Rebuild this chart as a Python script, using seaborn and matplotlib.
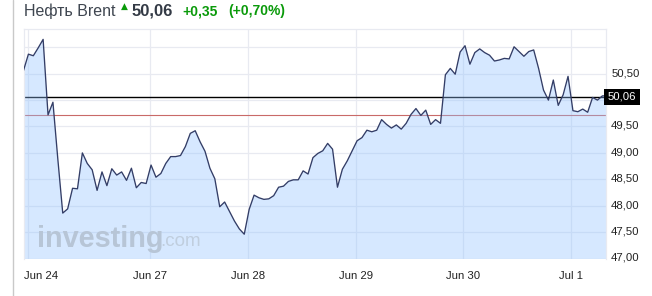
import matplotlib
matplotlib.use("Agg")
import matplotlib.pyplot as plt
from matplotlib.lines import Line2D
from matplotlib.transforms import ScaledTranslation
import numpy as np
import pandas as pd
import seaborn as sns

prices = [50.56, 50.87, 50.84, 50.99, 51.15, 49.72, 49.96, 48.88, 47.86, 47.94,
          48.33, 48.32, 49.00, 48.80, 48.68, 48.29, 48.64, 48.38, 48.70, 48.58,
          48.64, 48.48, 48.71, 48.34, 48.44, 48.42, 48.77, 48.54, 48.61, 48.80,
          48.93, 48.93, 48.95, 49.12, 49.37, 49.42, 49.21, 49.03, 48.71, 48.51,
          47.98, 48.07, 47.89, 47.71, 47.56, 47.46, 47.93, 48.20, 48.15, 48.12,
          48.13, 48.19, 48.35, 48.37, 48.46, 48.49, 48.49, 48.66, 48.60, 48.91,
          48.99, 49.04, 49.18, 49.07, 48.35, 48.69, 48.85, 49.04, 49.23, 49.29,
          49.43, 49.40, 49.43, 49.63, 49.54, 49.47, 49.53, 49.45, 49.56, 49.73,
          49.84, 49.71, 49.81, 49.54, 49.63, 49.56, 50.48, 50.60, 50.49, 50.91,
          51.03, 50.68, 50.90, 50.97, 50.90, 50.85, 50.74, 50.76, 50.79, 50.78,
          51.01, 50.92, 50.83, 50.92, 50.95, 50.60, 50.19, 50.00, 50.38, 49.90,
          50.10, 50.45, 49.80, 49.78, 49.83, 49.77, 50.05, 50.00, 50.08, 50.08]
date_ticks = [1.0, 25.84, 45.8, 67.8, 89.6, 111.6]
date_labels = ["Jun 24", "Jun 27", "Jun 28", "Jun 29", "Jun 30", "Jul 1"]
price_ticks = [47.0, 47.5, 48.0, 48.5, 49.0, 49.5, 50.0, 50.5, 51.0]
price_labels = ["47,00", "47,50", "48,00", "48,50", "49,00", "49,50", "", "50,50", ""]
last_price = 50.05
prev_close = 49.72

W, H = 652, 296
FONT = ["Liberation Sans", "DejaVu Sans"]
GRID = "#e8eaf1"

sns.set_style("white")
plt.rcParams["font.family"] = FONT

fig = plt.figure(figsize=(W / 100, H / 100), dpi=100)
ax = fig.add_axes([23.5 / W, 1 - 258.5 / H, (606.3 - 23.5) / W, (258.5 - 28.5) / H])

df = pd.DataFrame({"bar": np.arange(len(prices)), "price": prices})
ax.set_axisbelow(True)
ax.grid(True, color=GRID, lw=0.9)
ax.axhline(prev_close, color="#c96a68", lw=0.8, zorder=1.2)
ax.axhline(last_price, color="black", lw=1.0, zorder=1.3)
ax.fill_between(df["bar"], df["price"], 40, color="#91c2ff", alpha=0.37, lw=0, zorder=1.5)
sns.lineplot(data=df, x="bar", y="price", ax=ax, color="#333d66", lw=0.95, zorder=3)

ax.set_xlim(0, 118.8)
ax.set_ylim(47.0, 51.356)
ax.set_xlabel("")
ax.set_ylabel("")
ax.set_xticks(date_ticks, date_labels)
ax.yaxis.tick_right()
ax.set_yticks(price_ticks, price_labels)
ax.tick_params(axis="both", length=0, labelsize=8.2, labelcolor="#222222")
ax.tick_params(axis="x", pad=9.3)
ax.tick_params(axis="y", pad=3.5)
for s in ax.spines.values():
    s.set_visible(True)
    s.set_color(GRID)
    s.set_linewidth(0.9)
ax.spines["bottom"].set_visible(False)

first = ax.get_xticklabels()[0]
first.set_ha("left")
first.set_transform(first.get_transform() + ScaledTranslation(-4.5 / 100, 0, fig.dpi_scale_trans))
for lab in ax.get_yticklabels():
    lab.set_transform(lab.get_transform() + ScaledTranslation(0, 1.5 / 100, fig.dpi_scale_trans))


def px(x, y):
    return x / W, 1 - y / H


fig.add_artist(Line2D([12.5 / W, 12.5 / W], [0, 1], color="#c9c9c9", lw=1.0))

tx, ty = px(24, 11.5)
fig.text(tx, ty, "Нефть Brent", fontsize=11.5, color="#3f4650", va="center", ha="left")
tx, ty = px(124, 6)
fig.text(tx, ty, "▲", fontsize=6.5, color="#0a9a0a", va="center", ha="center", family="DejaVu Sans")
tx, ty = px(132, 11)
fig.text(tx, ty, "50,06", fontsize=12, fontweight="bold", color="#333a45", va="center", ha="left")
tx, ty = px(182, 11.5)
fig.text(tx, ty, "+0,35", fontsize=10, fontweight="bold", color="#0a9a0a", va="center", ha="left")
tx, ty = px(228, 11.5)
fig.text(tx, ty, "(+0,70%)", fontsize=10, fontweight="bold", color="#0a9a0a", va="center", ha="left")

tx, ty = px(622, 97)
fig.text(tx, ty, "50,06", fontsize=8.2, color="white", va="center", ha="center",
         bbox=dict(boxstyle="square,pad=0.3", fc="black", ec="black", lw=0), zorder=5)

tx, ty = px(37, 239)
fig.text(tx, ty, "investing", fontsize=20.8, fontweight="bold", color="#b7c5d6", va="center", ha="left", zorder=2)
tx, ty = px(160, 242)
fig.text(tx, ty, ".com", fontsize=13.5, color="#c0cede", va="center", ha="left", zorder=2)

fig.savefig("out.png", dpi=100)
